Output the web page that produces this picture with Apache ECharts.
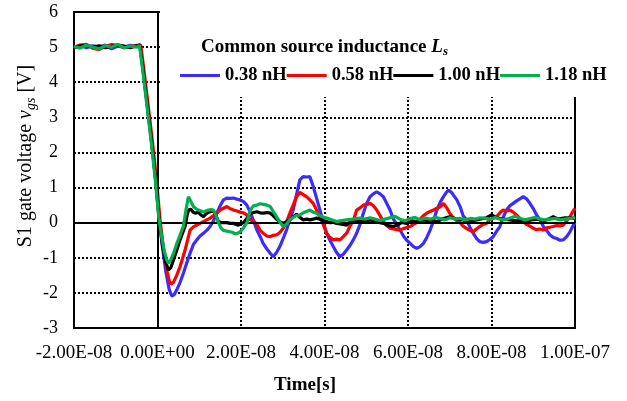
<!DOCTYPE html>
<html>
<head>
<meta charset="utf-8">
<script src="https://cdn.jsdelivr.net/npm/echarts@6/dist/echarts.min.js"></script>
<style>
  html, body { margin: 0; padding: 0; background: #fff; }
  #chart { width: 627px; height: 401px; }
</style>
</head>
<body>
<div id="chart"></div>
<script>
// Gate voltage waveforms of S1 for four common source inductances.
// Time in ns, voltage in V.
const seriesNames = ['0.38 nH', '0.58 nH', '1.00 nH', '1.18 nH'];
const seriesColors = ['#3a2cff', '#ff0000', '#000000', '#00b050'];

const vgs038 = [
  [-20,5.0],[-18.5,5.05],[-17,4.98],[-15.5,5.04],[-14,5.0],[-12.5,5.06],[-11,4.95],[-9.5,5.03],[-8,5.0],[-6.5,5.05],[-5,5.02],[-4.2,5.08],
  [-3.5,4.4],[-2.5,3.4],[-1.5,2.4],[-0.5,1.3],[0.4,0.1],[1.2,-0.7],[2,-1.4],[2.8,-1.9],[3.4,-2.09],[4.0,-2.05],[4.6,-1.92],[5.4,-1.7],
  [6.2,-1.44],[7,-1.15],[7.8,-0.87],[8.6,-0.62],[9.4,-0.49],[10.2,-0.38],[11,-0.3],[11.8,-0.22],[12.6,-0.11],[13.4,0.05],[14.2,0.27],
  [15,0.48],[15.8,0.65],[16.6,0.7],[17.4,0.69],[18.2,0.7],[19,0.67],[19.8,0.65],[20.6,0.6],[21.4,0.5],[22.2,0.3],[23,0.05],[23.8,-0.21],
  [24.6,-0.4],[25.3,-0.59],[26.2,-0.75],[27,-0.87],[27.7,-0.97],[28.5,-0.85],[29.3,-0.68],[30.1,-0.45],[30.9,-0.21],[31.7,0.08],[32.5,0.36],
  [33.3,0.8],[34.1,1.22],[34.9,1.31],[35.7,1.3],[36.5,1.31],[37.3,1.03],[38.1,0.7],[38.9,0.36],[39.7,0.02],[40.5,-0.3],[41.3,-0.5],
  [42.1,-0.68],[42.9,-0.85],[43.7,-0.97],[44.5,-0.9],[45.3,-0.78],[46.1,-0.65],[46.9,-0.49],[47.7,-0.3],[48.5,-0.05],[49.3,0.27],
  [50.1,0.55],[50.9,0.74],[51.7,0.82],[52.5,0.88],[53.3,0.82],[54.1,0.74],[54.9,0.55],[55.7,0.36],[56.5,0.1],[57.3,-0.05],[58.1,-0.21],
  [58.9,-0.38],[59.7,-0.5],[60.5,-0.59],[61.3,-0.68],[62.1,-0.73],[62.9,-0.68],[63.7,-0.59],[64.5,-0.42],[65.3,-0.21],[66.1,0.05],
  [66.9,0.36],[67.7,0.58],[68.5,0.74],[69.1,0.85],[69.7,0.93],[70.5,0.85],[71.7,0.65],[72.5,0.45],[73.2,0.2],[74,0.08],[74.8,-0.12],
  [75.6,-0.3],[76.4,-0.45],[77.2,-0.54],[78,-0.56],[78.8,-0.54],[79.6,-0.48],[80.4,-0.4],[81.2,-0.25],[82,-0.11],[82.8,0.15],[83.6,0.36],
  [84.4,0.48],[85.2,0.55],[86,0.62],[86.8,0.68],[87.6,0.74],[88.4,0.68],[89.2,0.55],[90,0.4],[90.8,0.22],[91.6,0.08],[92.4,-0.1],
  [93.2,-0.22],[94,-0.35],[94.8,-0.42],[95.6,-0.45],[96.4,-0.5],[97.2,-0.49],[98,-0.4],[98.8,-0.26],[99.4,-0.12],[100,0]
];

const vgs058 = [
  [-20,4.98],[-18.5,5.06],[-17,5.08],[-15.5,4.97],[-14,4.93],[-12.5,5.02],[-11,5.07],[-9.5,5.05],[-8,4.98],[-6.5,5.02],[-5,5.05],[-4.0,5.05],
  [-3.3,4.4],[-2.3,3.4],[-1.3,2.4],[-0.3,1.3],[0.6,0.1],[1.4,-0.7],[2.2,-1.35],[2.8,-1.65],[3.2,-1.75],[3.8,-1.7],[4.6,-1.5],[5.4,-1.25],
  [6,-1.02],[6.6,-0.78],[7.2,-0.5],[7.8,-0.21],[8.6,-0.12],[9.4,-0.07],[10.2,-0.02],[11,0.03],[11.8,0.08],[12.6,0.13],[13.4,0.2],[14.2,0.27],
  [15,0.36],[15.8,0.41],[16.6,0.46],[17.4,0.4],[18.2,0.36],[19,0.33],[19.8,0.3],[20.6,0.28],[21.4,0.22],[22.2,0.08],[23,0.05],[23.8,-0.05],
  [24.6,-0.22],[25.3,-0.3],[26.2,-0.38],[27,-0.4],[27.7,-0.36],[28.5,-0.35],[29.3,-0.28],[30.1,-0.16],[30.9,0.02],[31.7,0.27],[32.5,0.5],
  [33.3,0.74],[34.1,0.86],[34.9,0.8],[35.7,0.74],[36.5,0.65],[37.3,0.55],[38.1,0.36],[38.9,0.17],[39.7,-0.05],[40.5,-0.3],[41.3,-0.42],
  [42.1,-0.49],[42.9,-0.47],[43.7,-0.49],[44.5,-0.4],[45.3,-0.3],[46.1,-0.1],[46.9,0.05],[47.7,0.36],[48.5,0.42],[49.3,0.5],[50.1,0.52],
  [50.9,0.55],[51.7,0.48],[52.5,0.36],[53.3,0.2],[54.1,0.03],[54.9,-0.08],[55.7,-0.16],[56.5,-0.18],[57.3,-0.2],[58.1,-0.21],[58.9,-0.17],
  [59.7,-0.14],[60.5,-0.11],[61.3,-0.05],[62.1,0],[62.9,0.1],[63.7,0.2],[64.5,0.27],[65.3,0.32],[66.1,0.36],[66.9,0.41],[67.7,0.45],
  [68.5,0.55],[69.3,0.42],[70,0.27],[70.8,0.15],[71.7,0.05],[72.5,0],[73.2,-0.1],[74,-0.16],[74.8,-0.22],[75.6,-0.26],[76.4,-0.18],
  [77.2,-0.11],[78,-0.05],[78.8,-0.02],[79.6,0.08],[80.4,0.12],[81.2,0.17],[82,0.28],[82.8,0.36],[83.6,0.33],[84.4,0.36],[85.2,0.3],
  [86,0.22],[86.8,0.12],[87.6,0.03],[88.4,-0.05],[89.2,-0.1],[90,-0.16],[90.8,-0.2],[91.6,-0.18],[92.4,-0.21],[93.2,-0.15],[94,-0.13],
  [94.8,-0.11],[95.6,-0.08],[96.4,-0.09],[97.2,-0.07],[98,0.05],[98.8,0.17],[99.4,0.3],[100,0.41]
];

const vgs100 = [
  [-20,5.0],[-18.5,5.03],[-17,5.05],[-15.5,5.0],[-14,5.04],[-12.5,4.98],[-11,5.02],[-9.5,5.06],[-8,5.03],[-6.5,4.98],[-5,5.04],[-4.2,5.03],
  [-3.5,4.4],[-2.5,3.4],[-1.5,2.4],[-0.5,1.3],[0.4,0.1],[1.2,-0.65],[1.9,-1.1],[2.6,-1.35],[3.2,-1.28],[4,-1.0],[4.7,-0.75],[5.4,-0.49],
  [6,-0.3],[6.6,-0.11],[7,0.15],[7.4,0.36],[8,0.38],[8.5,0.3],[9,0.27],[9.8,0.3],[10.4,0.22],[11,0.17],[11.6,0.25],[12.2,0.3],[12.8,0.32],
  [13.4,0.33],[14,0.2],[14.6,0.03],[15.4,0.0],[16.6,0.0],[17.4,-0.02],[18.2,-0.02],[19.4,-0.07],[20.6,0],[21.4,0.12],[22.2,0.25],[23,0.29],
  [23.8,0.31],[24.6,0.28],[25.4,0.27],[26.2,0.29],[27,0.27],[27.7,0.2],[28.5,0.1],[29.3,0.03],[30.1,-0.02],[30.9,0.03],[31.7,0.08],
  [32.5,0.16],[33.3,0.24],[34.1,0.15],[34.9,0.08],[35.7,0.1],[36.5,0.08],[37.3,0.1],[38.1,0.13],[38.9,0.1],[39.7,0.06],[40.5,0.03],
  [41.3,0.0],[42.1,0.01],[42.9,-0.02],[44.1,-0.04],[45.3,-0.07],[46.1,0.03],[47.7,0.03],[48.9,0.06],[50.1,0.04],[50.9,0.08],[52.5,0.02],
  [54.1,-0.02],[55.3,-0.08],[56.5,-0.11],[57.7,-0.06],[58.5,0.01],[59.7,-0.02],[60.9,0.05],[62.1,0.03],[63.7,0.08],[65.3,0.05],[66.9,0.03],
  [68.5,0.12],[70,0.17],[71.6,0.1],[73.2,0.08],[74,0.03],[75.6,0.06],[77.2,0.1],[78.8,0.14],[80,0.22],[81.2,0.14],[82.8,0.1],[84.4,0.08],
  [86,0.05],[87.2,0.06],[88.4,0.03],[89.6,0.08],[91.2,0.1],[92.8,0.06],[94,0.12],[94.8,0.17],[96,0.1],[97.6,0.14],[99.6,0.13],[100,0.12]
];

const vgs118 = [
  [-20,5.02],[-18.5,4.97],[-17,5.06],[-15.5,5.0],[-14,4.95],[-12.5,5.04],[-11,5.0],[-9.5,5.08],[-8,4.98],[-6.5,5.03],[-5,5.0],[-4.3,5.04],
  [-3.6,4.4],[-2.6,3.4],[-1.6,2.4],[-0.6,1.3],[0.3,0.15],[1.0,-0.4],[1.7,-0.85],[2.2,-1.05],[2.6,-1.16],[3.2,-1.05],[3.9,-0.85],[4.6,-0.6],
  [5.4,-0.35],[6.2,-0.1],[6.8,0.35],[7.4,0.74],[8,0.6],[8.6,0.46],[9.2,0.4],[9.8,0.36],[10.4,0.33],[11,0.3],[11.6,0.33],[12.2,0.36],
  [12.8,0.37],[13.4,0.36],[14,0.2],[14.6,0],[15.2,-0.15],[15.8,-0.22],[16.6,-0.24],[17.4,-0.26],[18,-0.28],[18.6,-0.32],[19.2,-0.3],
  [19.8,-0.26],[20.6,-0.15],[21.4,0],[22.2,0.35],[23,0.48],[23.8,0.5],[24.6,0.54],[25.4,0.52],[26.2,0.5],[27,0.46],[27.7,0.32],[28.5,0.17],
  [29.3,0.02],[30.1,-0.11],[30.9,-0.04],[31.7,0.08],[32.5,0.15],[33.3,0.2],[34.1,0.22],[34.9,0.28],[35.7,0.32],[36.5,0.36],[37.3,0.3],
  [38.1,0.27],[38.9,0.2],[39.7,0.16],[40.5,0.13],[41.7,0.08],[42.9,0.03],[44.1,0.06],[45.3,0.08],[46.9,0.1],[48.5,0.13],[49.7,0.1],
  [50.9,0.14],[52.1,0.1],[53.3,0.06],[54.5,0.1],[55.7,0.14],[56.9,0.18],[58.1,0.1],[59.3,0.05],[60.5,0.12],[61.7,0.15],[62.9,0.08],
  [64.1,0.13],[65.3,0.1],[66.5,0.15],[67.7,0.12],[68.9,0.08],[70.1,0.14],[71.3,0.1],[72.5,0.12],[73.7,0.08],[74.9,0.12],[76.1,0.1],
  [77.3,0.14],[78.5,0.12],[79.7,0.1],[80.9,0.15],[82.1,0.1],[83.3,0.08],[84.5,0.13],[85.7,0.18],[86.9,0.12],[88.1,0.08],[89.3,0.12],
  [90.5,0.15],[91.7,0.1],[92.9,0.08],[94.1,0.1],[95.3,0.12],[96.5,0.08],[97.7,0.1],[98.9,0.12],[100,0.15]
];

const seriesData = [vgs038, vgs058, vgs100, vgs118];

// Time axis ticks (ns), shown in seconds with Excel-style exponent
const timeTicks = { min: -20, max: 100, step: 20 };
const voltTicks = { min: -3, max: 6, step: 1 };

const SERIF = '"Liberation Serif", "Times New Roman", serif';

function sciLabel(ns) {
  const s = (ns * 1e-9).toExponential(2);
  const parts = s.split('e');
  const sign = parts[1][0] === '-' ? '-' : '+';
  const digits = parts[1].replace(/[+-]/, '').padStart(2, '0');
  return parts[0] + 'E' + sign + digits;
}

const dotted = { color: '#000', width: 2, type: [2, 2] };

const chart = echarts.init(document.getElementById('chart'), null, { renderer: 'canvas' });

const lineSeries = seriesNames.map((name, i) => ({
  name: name,
  type: 'line',
  data: seriesData[i],
  symbol: 'none',
  showSymbol: false,
  smooth: false,
  z: 3 + i,
  lineStyle: { color: seriesColors[i], width: 3.2 },
  itemStyle: { color: seriesColors[i] },
  emphasis: { disabled: true }
}));

// Solid reference lines at t = 0 and v = 0
lineSeries.unshift({
  name: 'zero',
  type: 'line',
  data: [],
  z: 2,
  silent: true,
  markLine: {
    silent: true,
    symbol: 'none',
    label: { show: false },
    lineStyle: { color: '#000', width: 2, type: 'solid' },
    emphasis: { disabled: true },
    data: [{ yAxis: 0 }, { xAxis: 0 }]
  }
});

chart.setOption({
  animation: false,
  backgroundColor: '#fff',
  grid: {
    left: 74, right: 52, top: 12, bottom: 73,
    show: true, borderColor: '#000', borderWidth: 2, backgroundColor: 'transparent'
  },
  title: {
    left: 196, top: 31, z: 30,
    text: '{b|Common source inductance }{l|L}{s|s}',
    textStyle: {
      rich: {
        b: { fontFamily: SERIF, fontSize: 19, fontWeight: 'bold', color: '#000', lineHeight: 22 },
        l: { fontFamily: SERIF, fontSize: 19, fontWeight: 'bold', fontStyle: 'italic', color: '#000', lineHeight: 22 },
        s: { fontFamily: SERIF, fontSize: 13, fontWeight: 'bold', fontStyle: 'italic', color: '#000', lineHeight: 12, verticalAlign: 'bottom' }
      }
    }
  },
  legend: {
    data: seriesNames,
    left: 180, top: 66, z: 30,
    padding: 0,
    icon: 'rect',
    itemWidth: 40, itemHeight: 3, itemGap: 0,
    selectedMode: false,
    textStyle: { fontFamily: SERIF, fontSize: 18.5, fontWeight: 'bold', color: '#000' }
  },
  xAxis: {
    type: 'value',
    min: timeTicks.min, max: timeTicks.max, interval: timeTicks.step,
    axisLine: { show: true, onZero: false, lineStyle: { color: '#000', width: 2 } },
    axisTick: { show: false },
    axisLabel: { formatter: sciLabel, fontFamily: SERIF, fontSize: 19, color: '#000', margin: 16 },
    splitLine: { show: true, lineStyle: dotted }
  },
  yAxis: {
    type: 'value',
    min: voltTicks.min, max: voltTicks.max, interval: voltTicks.step,
    axisLine: { show: true, onZero: false, lineStyle: { color: '#000', width: 2 } },
    axisTick: { show: false },
    axisLabel: { fontFamily: SERIF, fontSize: 18, color: '#000', margin: 16 },
    splitLine: { show: true, lineStyle: dotted }
  },
  graphic: [
    // white panel behind the legend block
    { type: 'rect', z: 20, silent: true, shape: { x: 160, y: 0, width: 467, height: 97 }, style: { fill: '#fff' } },
    {
      type: 'text', z: 30, silent: true, x: 26, y: 156, rotation: Math.PI / 2,
      style: {
        text: '{r|S1 gate voltage }{i|v}{s|gs}{r| [V]}',
        align: 'center', verticalAlign: 'middle',
        rich: {
          r: { fontFamily: SERIF, fontSize: 20, color: '#000', lineHeight: 24 },
          i: { fontFamily: SERIF, fontSize: 20, fontStyle: 'italic', color: '#000', lineHeight: 24 },
          s: { fontFamily: SERIF, fontSize: 14, fontStyle: 'italic', color: '#000', lineHeight: 14, verticalAlign: 'bottom' }
        }
      }
    },
    {
      type: 'text', z: 30, silent: true, x: 305, y: 385,
      style: {
        text: 'Time[s]', align: 'center', verticalAlign: 'middle',
        fontFamily: SERIF, fontSize: 19, fontWeight: 'bold', fill: '#000'
      }
    }
  ],
  series: lineSeries
});
</script>
</body>
</html>
